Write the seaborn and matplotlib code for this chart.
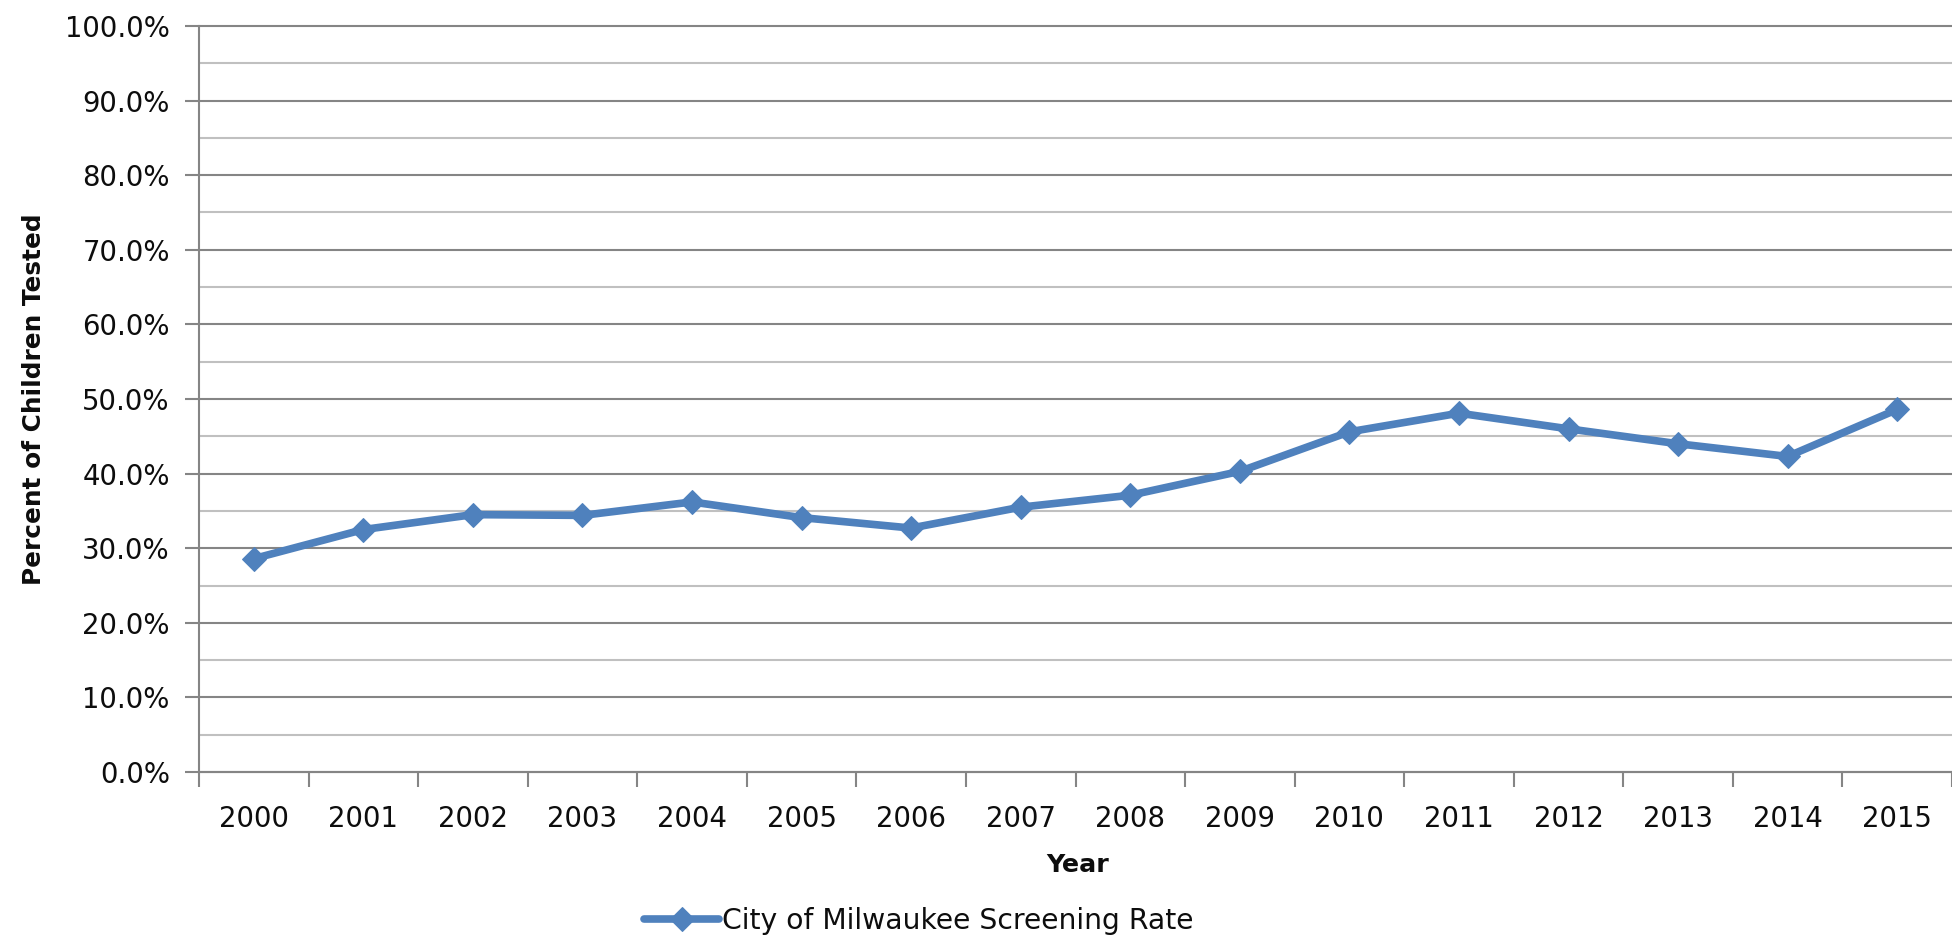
import pandas as pd
import matplotlib
matplotlib.use("Agg")
import matplotlib.pyplot as plt
import seaborn as sns
from matplotlib.ticker import FixedLocator, MultipleLocator, FuncFormatter

# data
years = [2000, 2001, 2002, 2003, 2004, 2005, 2006, 2007,
         2008, 2009, 2010, 2011, 2012, 2013, 2014, 2015]
screening_rate = [28.6, 32.5, 34.5, 34.4, 36.2, 34.1, 32.7, 35.5,
                  37.1, 40.3, 45.6, 48.1, 46.0, 44.0, 42.3, 48.6]
series_name = "City of Milwaukee Screening Rate"

df = pd.DataFrame({"year": years, "rate": screening_rate})

sns.set_style("white")
plt.rcParams['font.family'] = ['DejaVu Sans']

W, H = 1952, 938
fig = plt.figure(figsize=(W / 100, H / 100), dpi=100)
ax = fig.add_axes([199 / W, 1 - 772 / H, (W - 199) / W, (772 - 26) / H])

blue = "#4F81BD"
major_grey = "#858585"
minor_grey = "#c0c0c0"
text_col = "#0d0d0d"

sns.lineplot(data=df, x="year", y="rate", ax=ax, color=blue, linewidth=5.5,
             marker="D", markersize=12, markeredgecolor=blue,
             label=series_name, zorder=5)

# y axis: 0-100%, major every 10, minor every 5
ax.set_ylim(0, 100)
ax.yaxis.set_major_locator(MultipleLocator(10))
ax.yaxis.set_minor_locator(MultipleLocator(5))
ax.yaxis.set_major_formatter(FuncFormatter(lambda v, p: f"{v:.1f}%"))
ax.grid(which="major", axis="y", color=major_grey, linewidth=1.5)
ax.grid(which="minor", axis="y", color=minor_grey, linewidth=1.5)
ax.grid(False, axis="x")
for gl in ax.yaxis.get_gridlines():
    gl.set_clip_on(False)

# x axis: categories with ticks between them
ax.set_xlim(years[0] - 0.5, years[-1] + 0.5)
ax.xaxis.set_major_locator(FixedLocator(years))
ax.xaxis.set_minor_locator(FixedLocator([y - 0.5 for y in years] + [years[-1] + 0.5]))
ax.set_xticklabels([str(y) for y in years])

ax.tick_params(axis="x", which="major", length=0, pad=24, labelsize=19.8, labelcolor=text_col)
ax.tick_params(axis="x", which="minor", length=11, width=1.5, color=major_grey, direction="out", bottom=True)
ax.tick_params(axis="y", which="major", length=10, width=1.5, color=major_grey, direction="out",
               left=True, pad=11, labelsize=19.8, labelcolor=text_col)
ax.tick_params(axis="y", which="minor", length=0)

for side in ["top", "right"]:
    ax.spines[side].set_visible(False)
for side in ["left", "bottom"]:
    ax.spines[side].set_color(major_grey)
    ax.spines[side].set_linewidth(1.5)

ax.set_xlabel("")
ax.set_ylabel("")
fig.text(34 / W, 1 - 399 / H, "Percent of Children Tested", rotation=90,
         ha="center", va="center", fontsize=17.8, fontweight="bold", color=text_col)
fig.text(1078 / W, 1 - 865 / H, "Year", ha="center", va="center",
         fontsize=18.3, fontweight="bold", color=text_col)

handles, labels = ax.get_legend_handles_labels()
ax.get_legend().remove()
fig.legend(handles, labels, loc="center", bbox_to_anchor=(919 / W, 1 - 921 / H),
           frameon=False, fontsize=20.3, handlelength=2.65, handletextpad=0.1,
           borderpad=0, labelcolor=text_col)

fig.savefig("out.png", dpi=100)
